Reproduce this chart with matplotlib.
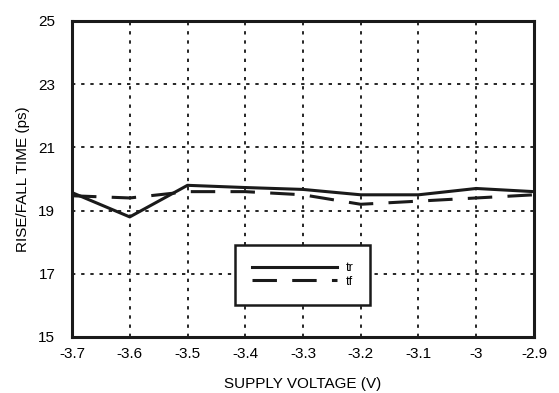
import matplotlib
matplotlib.use("Agg")
import matplotlib.pyplot as plt

voltage = [-3.7, -3.6, -3.5, -3.4, -3.3, -3.2, -3.1, -3.0, -2.9]
tr = [19.57, 18.8, 19.8, 19.73, 19.67, 19.5, 19.5, 19.7, 19.6]
tf = [19.47, 19.4, 19.6, 19.6, 19.5, 19.2, 19.3, 19.4, 19.5]
xticks = [-3.7, -3.6, -3.5, -3.4, -3.3, -3.2, -3.1, -3.0, -2.9]
xticklabels = ["-3.7", "-3.6", "-3.5", "-3.4", "-3.3", "-3.2", "-3.1", "-3", "-2.9"]
yticks = [15, 17, 19, 21, 23, 25]

plt.rcParams['font.family'] = ['Liberation Sans', 'DejaVu Sans']
fig = plt.figure(figsize=(5.59, 3.93), dpi=100)
ax = fig.add_axes([72/559, 1-337/393, (534-72)/559, (337-21)/393])

ax.plot(voltage, tr, color='#1a1a1a', lw=2.2, label='tr', zorder=3)
ax.plot(voltage, tf, color='#1a1a1a', lw=2.2, dashes=(8, 5), label='tf', zorder=3)

ax.set_xlim(-3.7, -2.9)
ax.set_ylim(15, 25)
ax.set_xticks(xticks)
ax.set_xticklabels(xticklabels)
ax.set_yticks(yticks)
ax.grid(True, color='black', linestyle=(0, (2, 3.5)), lw=1.2)
ax.tick_params(axis='x', length=0, labelsize=11, pad=7)
ax.tick_params(axis='y', length=0, labelsize=11, pad=12)
for s in ax.spines.values():
    s.set_linewidth(2.2)
    s.set_color('#1a1a1a')
ax.set_xlabel('SUPPLY VOLTAGE (V)', fontsize=11, labelpad=12)
ax.set_ylabel('RISE/FALL TIME (ps)', fontsize=11, labelpad=6)

leg = ax.legend(loc='upper left', bbox_to_anchor=((235-72)/462, 1-(245-21)/316),
                frameon=True, fancybox=False, fontsize=9, handlelength=6.8,
                borderpad=1.35, labelspacing=0.15, handletextpad=0.7, borderaxespad=0)
leg.get_frame().set_edgecolor('#1a1a1a')
leg.get_frame().set_linewidth(1.8)
leg.get_frame().set_facecolor('white')
leg.get_frame().set_alpha(1)

fig.savefig('out.png', dpi=100)
